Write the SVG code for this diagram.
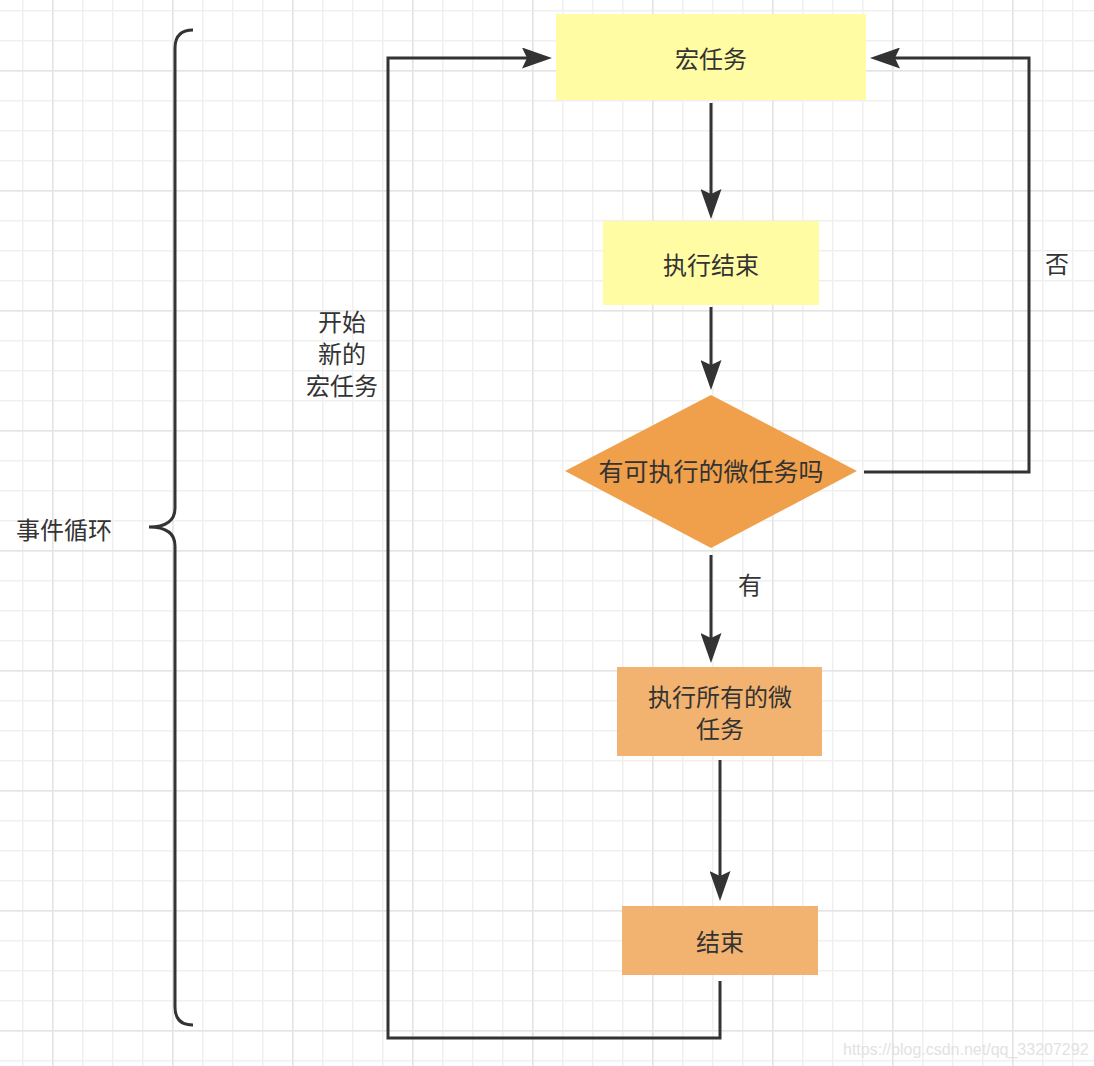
<svg xmlns="http://www.w3.org/2000/svg" width="1094" height="1066" viewBox="0 0 1094 1066">
<style>
.t{font-family:"Noto Sans CJK SC","Noto Sans",sans-serif;font-size:24px;fill:#333;text-anchor:middle;dominant-baseline:central}
.c{fill:none;stroke:#333;stroke-width:3}
.ar{marker-end:url(#arr)}
</style>
<defs>
<pattern id="gmin" x="22" y="10" width="30" height="30" patternUnits="userSpaceOnUse">
<rect x="0" y="0" width="1.5" height="30" fill="#f0f0f0"/>
<rect x="0" y="0" width="30" height="1.5" fill="#f0f0f0"/>
</pattern>
<pattern id="gmaj" x="52" y="70" width="120" height="120" patternUnits="userSpaceOnUse">
<rect x="0" y="0" width="1.5" height="120" fill="#e4e4e4"/>
<rect x="0" y="0" width="120" height="1.5" fill="#e4e4e4"/>
</pattern>
<marker id="arr" markerUnits="userSpaceOnUse" viewBox="0 0 30 21" markerWidth="30" markerHeight="21" refX="5" refY="10.5" orient="auto">
<path d="M0,0 L30,10.5 L0,21 L5,10.5 Z" fill="#333"/>
</marker>
</defs>
<rect width="1094" height="1066" fill="#fff"/>
<rect width="1094" height="1066" fill="url(#gmin)"/>
<rect width="1094" height="1066" fill="url(#gmaj)"/>

<g id="brace">
<path d="M193,30 Q175,30 175,48 V508 Q175,527 149,527 Q175,527 175,546 V1007 Q175,1025 193,1025" fill="none" stroke="#333" stroke-width="3"/>
<text class="t" x="64" y="528">事件循环</text>
</g>

<g id="connectors">
<path class="c ar" d="M711,103 V194"/>
<path class="c ar" d="M711,307 V365"/>
<path class="c ar" d="M711,555 V638"/>
<path class="c ar" d="M720,760 V876"/>
<path class="c ar" d="M720,981 V1038 H388 V58 H527"/>
<path class="c ar" d="M864,472 H1029 V58 H895"/>
<text class="t" x="750" y="583">有</text>
<text class="t" x="342" y="320">开始</text>
<text class="t" x="342" y="352">新的</text>
<text class="t" x="342" y="384">宏任务</text>
<text class="t" x="1057" y="262">否</text>
</g>

<g id="macro">
<rect x="556" y="14" width="310" height="86" fill="#fffca3"/>
<text class="t" x="711" y="57">宏任务</text>
</g>
<g id="done1">
<rect x="603" y="221" width="216" height="84" fill="#fffca3"/>
<text class="t" x="711" y="263">执行结束</text>
</g>
<g id="decision">
<polygon points="711,395 857,471 711,548 565,471" fill="#f0a04b"/>
<text class="t" x="711" y="470" style="font-size:25px">有可执行的微任务吗</text>
</g>
<g id="micro">
<rect x="617" y="667" width="205" height="89" fill="#f3b370"/>
<text class="t" x="720" y="695">执行所有的微</text>
<text class="t" x="720" y="727">任务</text>
</g>
<g id="end">
<rect x="622" y="906" width="196" height="69" fill="#f3b370"/>
<text class="t" x="720" y="940">结束</text>
</g>
<text x="843" y="1055" style="font-family:'Liberation Sans',Arial,sans-serif;font-size:16px;fill:#e2e2e2">https://blog.csdn.net/qq_33207292</text>
</svg>
